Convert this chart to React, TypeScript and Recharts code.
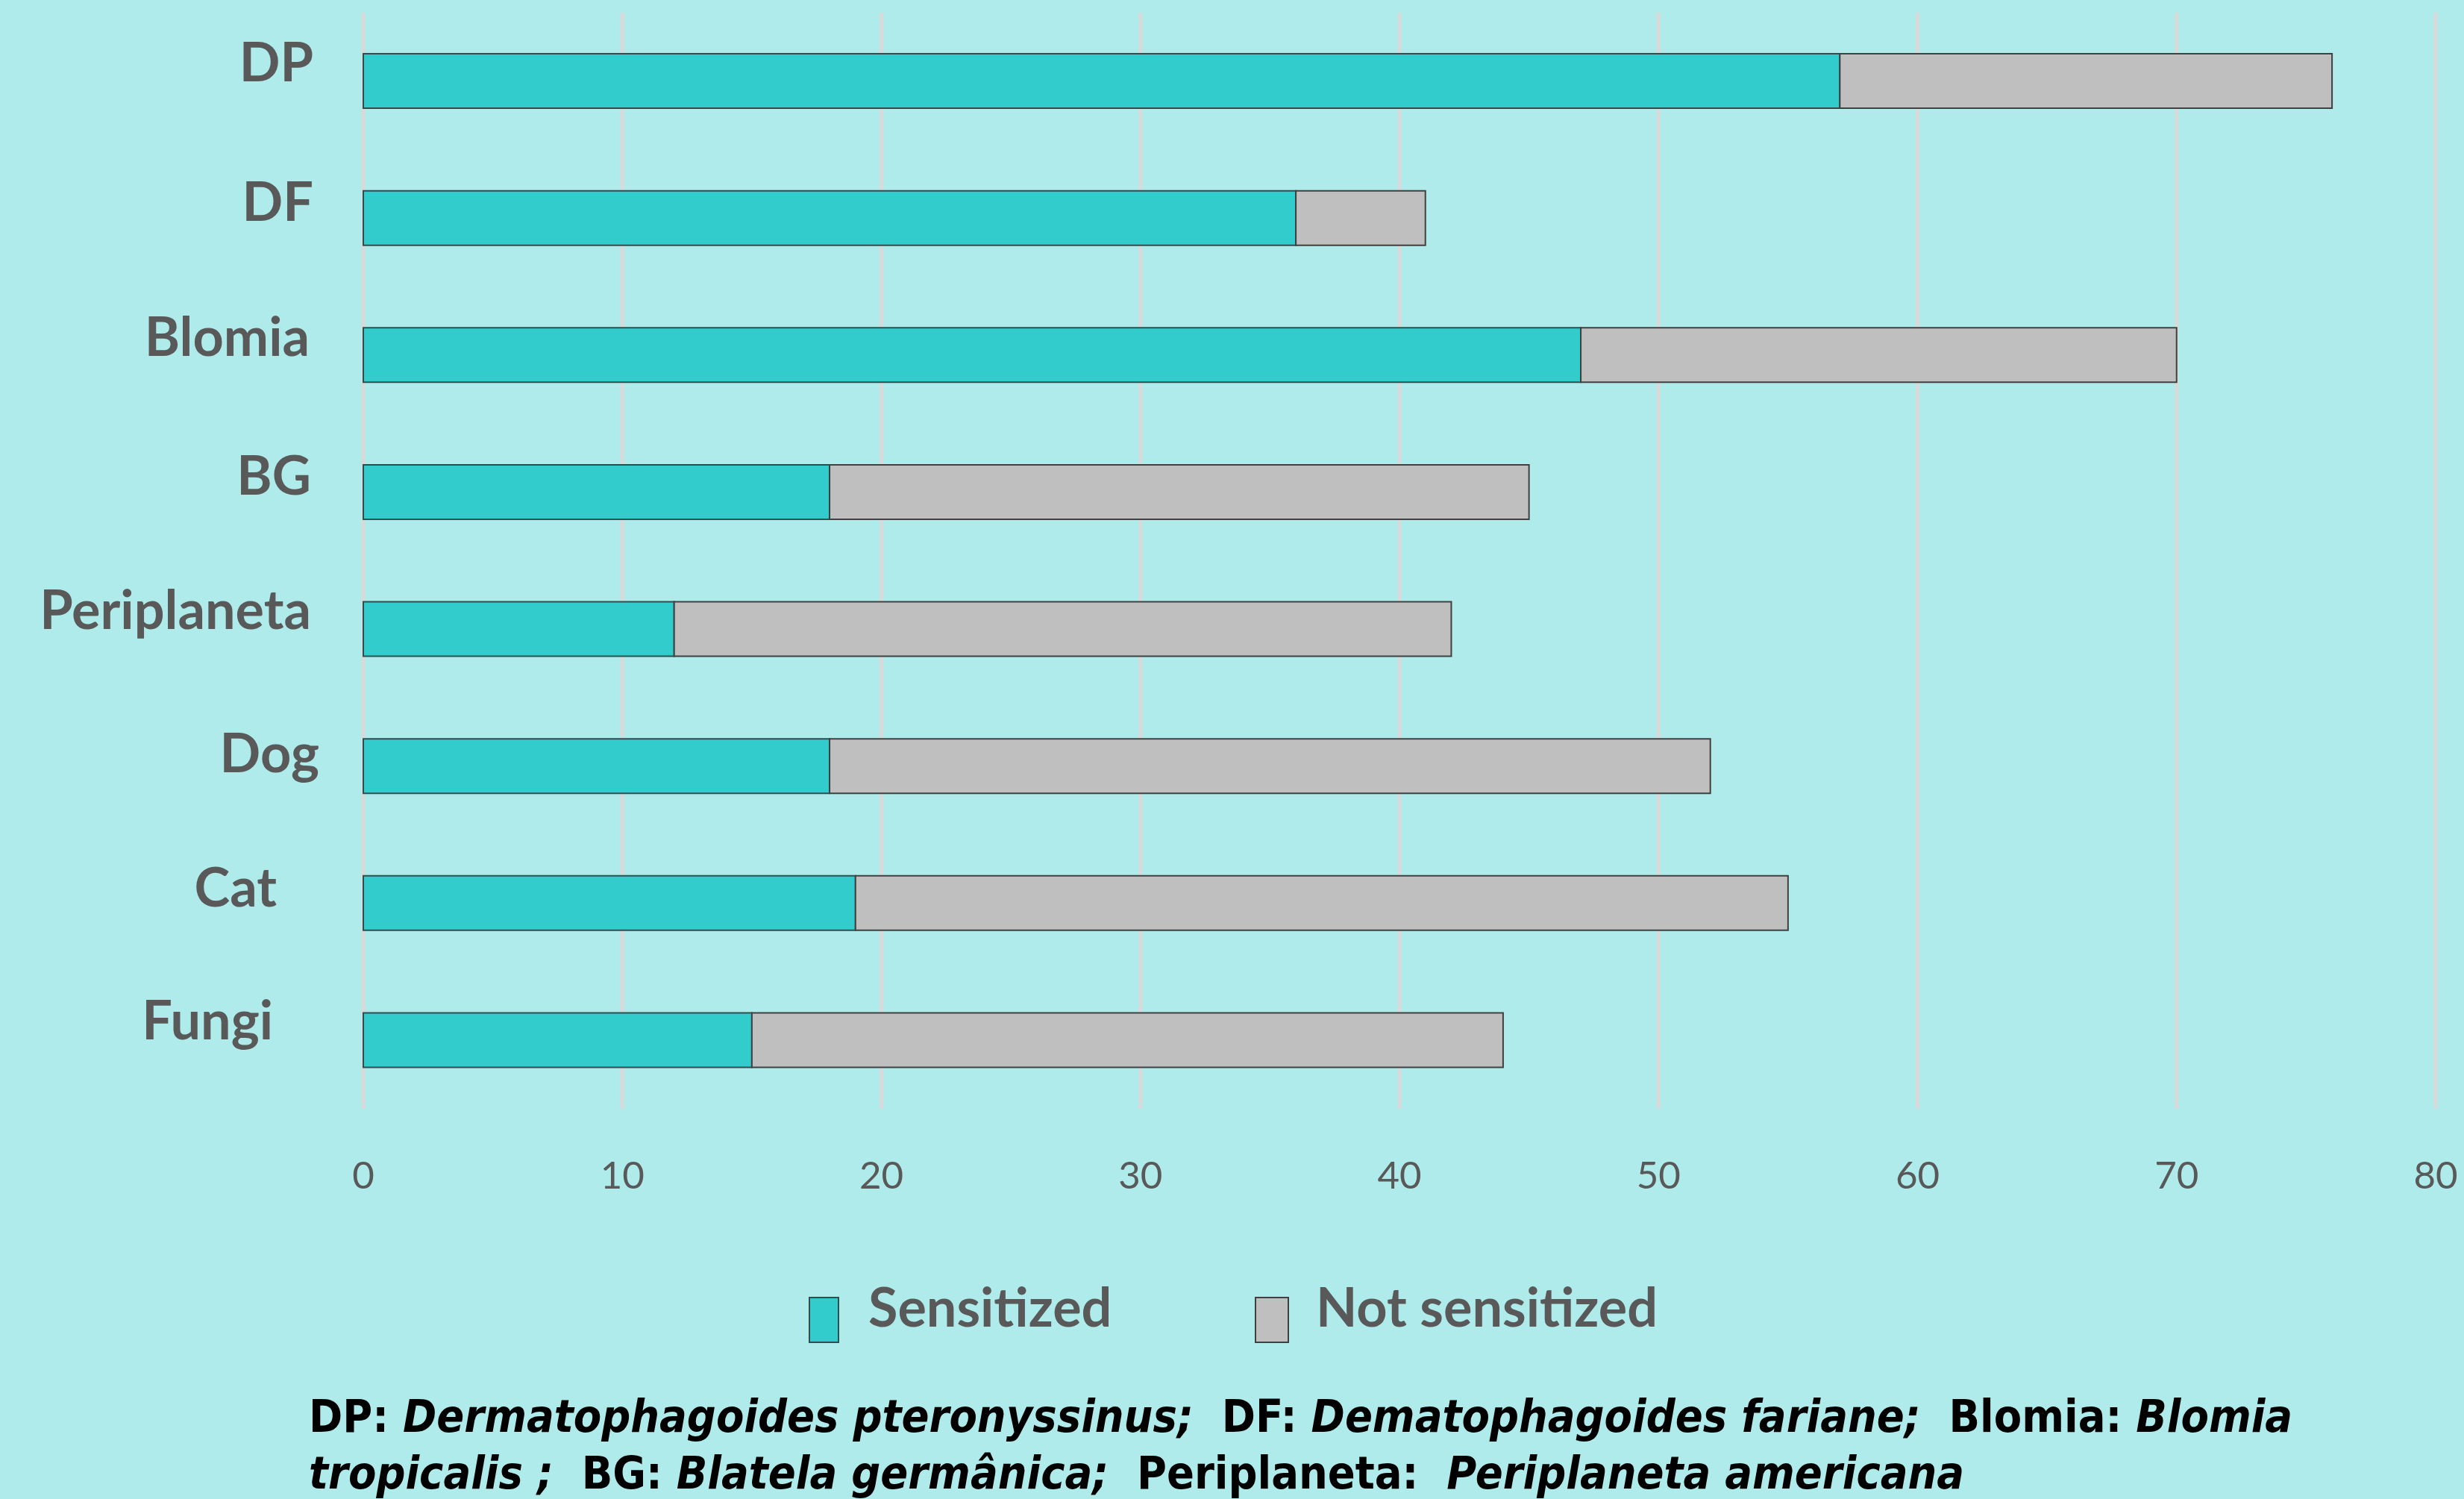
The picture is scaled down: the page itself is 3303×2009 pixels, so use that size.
import React from "react";
import { BarChart, Bar, XAxis, YAxis, CartesianGrid } from "recharts";

const categories = ["DP", "DF", "Blomia", "BG", "Periplaneta", "Dog", "Cat", "Fungi"];
const sensitized = [57, 36, 47, 18, 12, 18, 19, 15];
const notSensitized = [19, 5, 23, 27, 30, 34, 36, 29];
const xTicks = [0, 10, 20, 30, 40, 50, 60, 70, 80];
const seriesNames = ["Sensitized", "Not sensitized"];

const data = categories.map((c, i) => ({
  name: c,
  sensitized: sensitized[i],
  notSensitized: notSensitized[i],
}));

const BG = "#AEEBEA";
const TEAL = "#33CCCC";
const GREY = "#BFBFBF";
const TEXT = "#595959";
const FONT = "Lato, 'Open Sans', sans-serif";

// per-label fine placement (style only)
const labelShift: Record<string, [number, number]> = {
  DP: [0, 0],
  DF: [0, 4],
  Blomia: [-5, 1],
  BG: [-3, 3],
  Periplaneta: [-3, 0],
  Dog: [8, 8],
  Cat: [-49, 4],
  Fungi: [-54, -1],
};

const YTick = (props: any) => {
  const { x, y, payload } = props;
  const s = labelShift[payload.value] || [0, 0];
  return (
    <text
      x={x - 67 + s[0]}
      y={y + s[1]}
      textAnchor="end"
      fill={TEXT}
      fontFamily={FONT}
      fontWeight={700}
      fontSize={72}
    >
      {payload.value}
    </text>
  );
};

const XTick = (props: any) => {
  const { x, y, payload } = props;
  return (
    <text
      x={x}
      y={y + 107}
      textAnchor="middle"
      fill={TEXT}
      fontFamily={FONT}
      fontSize={51}
    >
      {payload.value}
    </text>
  );
};

export default function App() {
  return (
    <div
      style={{
        position: "absolute",
        left: 0,
        top: 0,
        width: 3303,
        height: 2009,
        background: BG,
        overflow: "hidden",
      }}
    >
      <BarChart
        width={3303}
        height={1620}
        data={data}
        layout="vertical"
        margin={{ top: 17, right: 38, left: 0, bottom: 0 }}
        barSize={73}
      >
        <CartesianGrid horizontal={false} stroke="#D9D9D9" strokeWidth={5} />
        <XAxis
          type="number"
          domain={[0, 80]}
          ticks={xTicks}
          interval={0}
          axisLine={false}
          tickLine={false}
          tickSize={0}
          tickMargin={0}
          height={134}
          tick={<XTick />}
        />
        <YAxis
          type="category"
          dataKey="name"
          width={487}
          axisLine={false}
          tickLine={false}
          tickSize={0}
          tickMargin={0}
          interval={0}
          tick={<YTick />}
        />
        <Bar
          dataKey="sensitized"
          name={seriesNames[0]}
          stackId="a"
          fill={TEAL}
          stroke="#2F4F4F"
          strokeWidth={2}
          isAnimationActive={false}
        />
        <Bar
          dataKey="notSensitized"
          name={seriesNames[1]}
          stackId="a"
          fill={GREY}
          stroke="#404040"
          strokeWidth={2}
          isAnimationActive={false}
        />
      </BarChart>

      <svg
        width={3303}
        height={120}
        style={{ position: "absolute", left: 0, top: 1700 }}
      >
        <rect x={1085} y={39} width={39} height={60} fill={TEAL} stroke="#2F4F4F" strokeWidth={2} />
        <text x={1164} y={78} fill={TEXT} fontFamily={FONT} fontWeight={700} fontSize={72}>
          {seriesNames[0]}
        </text>
        <rect x={1683} y={39} width={44} height={60} fill={GREY} stroke="#404040" strokeWidth={2} />
        <text x={1764} y={78} fill={TEXT} fontFamily={FONT} fontWeight={700} fontSize={72}>
          {seriesNames[1]}
        </text>
      </svg>

      <div
        style={{
          position: "absolute",
          left: 414,
          top: 1860,
          fontFamily: "'DejaVu Sans Condensed', 'DejaVu Sans', sans-serif",
          fontStretch: "condensed",
          fontWeight: 700,
          fontSize: 60.6,
          lineHeight: "76px",
          color: "#000",
          whiteSpace: "pre",
        }}
      >
        {"DP: "}
        <i>Dermatophagoides pteronyssinus;</i>
        {"  DF: "}
        <i>Dematophagoides fariane;</i>
        {"  Blomia: "}
        <i>Blomia</i>
        <br />
        <i>tropicalis ;</i>
        {"  BG: "}
        <i>Blatela germânica;</i>
        {"  Periplaneta:  "}
        <i>Periplaneta americana</i>
      </div>
    </div>
  );
}
